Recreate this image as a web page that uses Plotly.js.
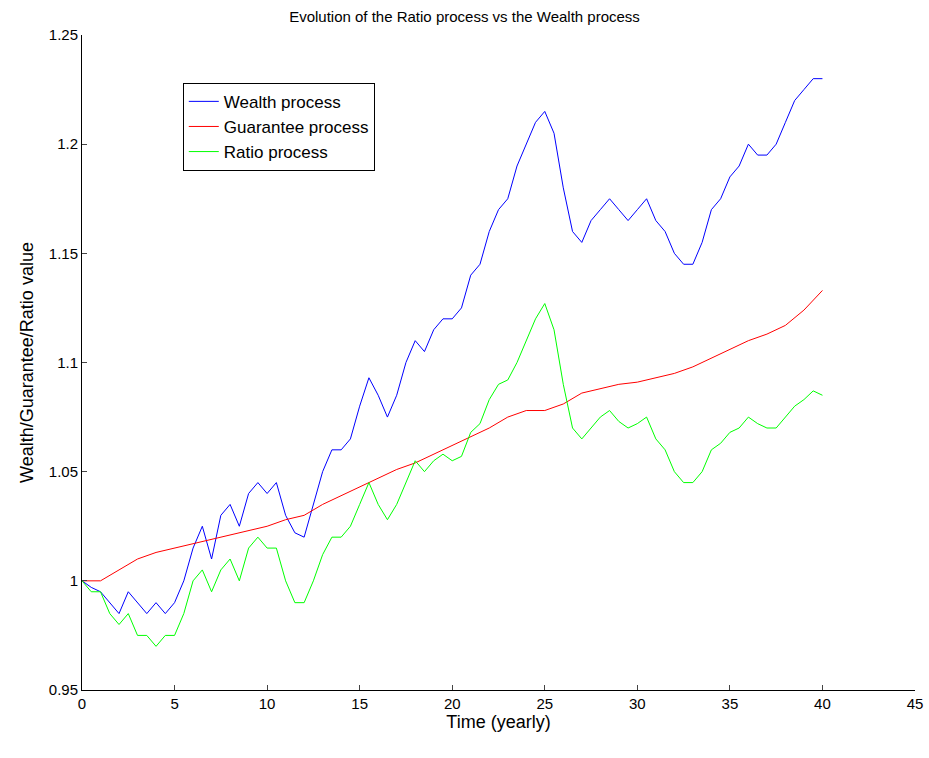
<!DOCTYPE html>
<html>
<head>
<meta charset="utf-8">
<script src="https://cdn.plot.ly/plotly-3.0.1.min.js"></script>
<style>body{margin:0;background:#fff}</style>
</head>
<body>
<div id="graph" style="width:929px;height:758px"></div>
<script>
// half-year sample times for wealth and ratio
var tHalf = [0,0.5,1,1.5,2,2.5,3,3.5,4,4.5,5,5.5,6,6.5,7,7.5,8,8.5,9,9.5,10,10.5,11,11.5,12,12.5,13,13.5,14,14.5,15,15.5,16,16.5,17,17.5,18,18.5,19,19.5,20,20.5,21,21.5,22,22.5,23,23.5,24,24.5,25,25.5,26,26.5,27,27.5,28,28.5,29,29.5,30,30.5,31,31.5,32,32.5,33,33.5,34,34.5,35,35.5,36,36.5,37,37.5,38,38.5,39,39.5,40];
var wealth = [1.0,0.997,0.995,0.99,0.985,0.995,0.99,0.985,0.99,0.985,0.99,1.0,1.015,1.025,1.01,1.03,1.035,1.025,1.04,1.045,1.04,1.045,1.03,1.022,1.02,1.035,1.05,1.06,1.06,1.065,1.08,1.093,1.085,1.075,1.085,1.1,1.11,1.105,1.115,1.12,1.12,1.125,1.14,1.145,1.16,1.17,1.175,1.19,1.2,1.21,1.215,1.205,1.18,1.16,1.155,1.165,1.17,1.175,1.17,1.165,1.17,1.175,1.165,1.16,1.15,1.145,1.145,1.155,1.17,1.175,1.185,1.19,1.2,1.195,1.195,1.2,1.21,1.22,1.225,1.23,1.23];
var ratio = [1.0,0.995,0.995,0.985,0.98,0.985,0.975,0.975,0.97,0.975,0.975,0.985,1.0,1.005,0.995,1.005,1.01,1.0,1.015,1.02,1.015,1.015,1.0,0.99,0.99,1.0,1.012,1.02,1.02,1.025,1.035,1.045,1.035,1.028,1.035,1.045,1.055,1.05,1.055,1.058,1.055,1.057,1.068,1.072,1.083,1.09,1.092,1.1,1.11,1.12,1.127,1.115,1.09,1.07,1.065,1.07,1.075,1.078,1.073,1.07,1.072,1.075,1.065,1.06,1.05,1.045,1.045,1.05,1.06,1.063,1.068,1.07,1.075,1.072,1.07,1.07,1.075,1.08,1.083,1.087,1.085];
// yearly guarantee values
var tYear = [0,1,2,3,4,5,6,7,8,9,10,11,12,13,14,15,16,17,18,19,20,21,22,23,24,25,26,27,28,29,30,31,32,33,34,35,36,37,38,39,40];
var guarantee = [1.0,1.0,1.005,1.01,1.013,1.015,1.017,1.019,1.021,1.023,1.025,1.028,1.03,1.035,1.039,1.043,1.047,1.051,1.054,1.058,1.062,1.066,1.07,1.075,1.078,1.078,1.081,1.086,1.088,1.09,1.091,1.093,1.095,1.098,1.102,1.106,1.11,1.113,1.117,1.124,1.133];

var data = [
  {x: tHalf, y: wealth, mode: 'lines', name: 'Wealth process', line: {color: '#0000ff', width: 1}},
  {x: tYear, y: guarantee, mode: 'lines', name: 'Guarantee process', line: {color: '#ff0000', width: 1}},
  {x: tHalf, y: ratio, mode: 'lines', name: 'Ratio process', line: {color: '#00ff00', width: 1}}
];

var layout = {
  font: {family: 'Liberation Sans, Arial, sans-serif', size: 15, color: '#000'},
  margin: {l: 82, r: 14, t: 35, b: 68},
  paper_bgcolor: '#fff', plot_bgcolor: '#fff',
  title: {text: 'Evolution of the Ratio process vs the Wealth process', font: {size: 15}, y: 0.985, yanchor: 'top'},
  xaxis: {range: [0, 45], dtick: 5, showgrid: false, zeroline: false, showline: true, linecolor: '#000',
    ticks: 'inside', ticklen: 5, title: {text: 'Time (yearly)', standoff: 0}},
  yaxis: {range: [0.95, 1.25], dtick: 0.05, showgrid: false, zeroline: false, showline: true, linecolor: '#000',
    ticks: 'inside', ticklen: 5, title: {text: 'Wealth/Guarantee/Ratio value', standoff: 10}},
  legend: {x: 0.121, y: 0.927, xanchor: 'left', yanchor: 'top', bordercolor: '#000', borderwidth: 1,
    bgcolor: '#fff', font: {size: 17}, tracegroupgap: 0},
  showlegend: true
};

Plotly.newPlot('graph', data, layout, {staticPlot: true});
</script>
</body>
</html>
